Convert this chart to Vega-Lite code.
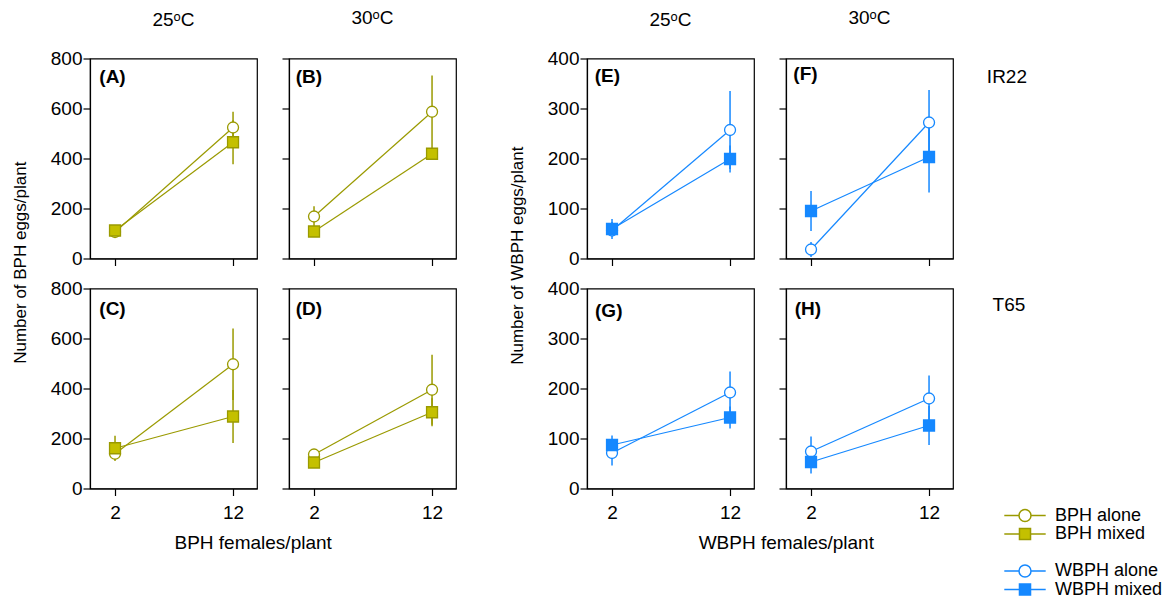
{
  "$schema": "https://vega.github.io/schema/vega-lite/v6.json",
  "background": "white",
  "padding": {"left": 11, "top": 7.5, "right": 0, "bottom": 0},
  "config": {
    "font": "Liberation Sans",
    "view": {"stroke": "black", "strokeWidth": 1.2},
    "axis": {"grid": false, "domainColor": "black", "domainWidth": 1.2, "tickColor": "black", "tickWidth": 1.2, "tickSize": 7, "labelFont": "Liberation Sans", "labelFontSize": 19, "labelColor": "black"},
    "axisX": {"labelPadding": 8},
    "axisY": {"labelPadding": 1},
    "title": {"font": "Liberation Sans", "fontSize": 19, "fontWeight": "normal", "color": "black"},
    "text": {"font": "Liberation Sans", "fontSize": 19, "fill": "black"},
    "legend": {"labelFont": "Liberation Sans", "labelFontSize": 18, "labelColor": "black"}
  },
  "datasets": {
    "obs": [
      {"panel": "A", "series": "BPH alone", "females": 2, "mean": 106, "lo": 100, "hi": 112},
      {"panel": "A", "series": "BPH alone", "females": 12, "mean": 524, "lo": 462, "hi": 587},
      {"panel": "A", "series": "BPH mixed", "females": 2, "mean": 112, "lo": 104, "hi": 120},
      {"panel": "A", "series": "BPH mixed", "females": 12, "mean": 465, "lo": 377, "hi": 553},
      {"panel": "B", "series": "BPH alone", "females": 2, "mean": 168, "lo": 128, "hi": 209},
      {"panel": "B", "series": "BPH alone", "females": 12, "mean": 587, "lo": 442, "hi": 732},
      {"panel": "B", "series": "BPH mixed", "females": 2, "mean": 108, "lo": 96, "hi": 120},
      {"panel": "B", "series": "BPH mixed", "females": 12, "mean": 419, "lo": 402, "hi": 436},
      {"panel": "C", "series": "BPH alone", "females": 2, "mean": 139, "lo": 112, "hi": 166},
      {"panel": "C", "series": "BPH alone", "females": 12, "mean": 497, "lo": 354, "hi": 640},
      {"panel": "C", "series": "BPH mixed", "females": 2, "mean": 161, "lo": 111, "hi": 211},
      {"panel": "C", "series": "BPH mixed", "females": 12, "mean": 288, "lo": 182, "hi": 394},
      {"panel": "D", "series": "BPH alone", "females": 2, "mean": 136, "lo": 122, "hi": 150},
      {"panel": "D", "series": "BPH alone", "females": 12, "mean": 395, "lo": 255, "hi": 535},
      {"panel": "D", "series": "BPH mixed", "females": 2, "mean": 104, "lo": 94, "hi": 114},
      {"panel": "D", "series": "BPH mixed", "females": 12, "mean": 305, "lo": 249, "hi": 361},
      {"panel": "E", "series": "WBPH alone", "females": 2, "mean": 56, "lo": 39, "hi": 73},
      {"panel": "E", "series": "WBPH alone", "females": 12, "mean": 257, "lo": 179, "hi": 335},
      {"panel": "E", "series": "WBPH mixed", "females": 2, "mean": 59, "lo": 45, "hi": 79},
      {"panel": "E", "series": "WBPH mixed", "females": 12, "mean": 199, "lo": 172, "hi": 226},
      {"panel": "F", "series": "WBPH alone", "females": 2, "mean": 18, "lo": 3, "hi": 33},
      {"panel": "F", "series": "WBPH alone", "females": 12, "mean": 272, "lo": 207, "hi": 337},
      {"panel": "F", "series": "WBPH mixed", "females": 2, "mean": 95, "lo": 55, "hi": 135},
      {"panel": "F", "series": "WBPH mixed", "females": 12, "mean": 203, "lo": 132, "hi": 274},
      {"panel": "G", "series": "WBPH alone", "females": 2, "mean": 71, "lo": 46, "hi": 96},
      {"panel": "G", "series": "WBPH alone", "females": 12, "mean": 192, "lo": 150, "hi": 234},
      {"panel": "G", "series": "WBPH mixed", "females": 2, "mean": 87, "lo": 68, "hi": 106},
      {"panel": "G", "series": "WBPH mixed", "females": 12, "mean": 142, "lo": 120, "hi": 164},
      {"panel": "H", "series": "WBPH alone", "females": 2, "mean": 74, "lo": 44, "hi": 104},
      {"panel": "H", "series": "WBPH alone", "females": 12, "mean": 180, "lo": 134, "hi": 226},
      {"panel": "H", "series": "WBPH mixed", "females": 2, "mean": 53, "lo": 30, "hi": 76},
      {"panel": "H", "series": "WBPH mixed", "females": 12, "mean": 126, "lo": 87, "hi": 165}
    ],
    "notes": [
      {"panel": "A", "kind": "tag", "label": "(A)", "lx": 0.67, "ly": 728},
      {"panel": "B", "kind": "tag", "label": "(B)", "lx": 0.45, "ly": 728},
      {"panel": "C", "kind": "tag", "label": "(C)", "lx": 0.67, "ly": 720},
      {"panel": "D", "kind": "tag", "label": "(D)", "lx": 0.45, "ly": 718},
      {"panel": "E", "kind": "tag", "label": "(E)", "lx": 0.53, "ly": 365},
      {"panel": "F", "kind": "tag", "label": "(F)", "lx": 0.5, "ly": 370},
      {"panel": "G", "kind": "tag", "label": "(G)", "lx": 0.56, "ly": 355},
      {"panel": "H", "kind": "tag", "label": "(H)", "lx": 0.62, "ly": 359},
      {"panel": "F", "kind": "row", "label": "IR22", "lx": 18.6, "ly": 364},
      {"panel": "H", "kind": "row", "label": "T65", "lx": 18.77, "ly": 368}
    ]
  },
  "spacing": 51,
  "hconcat": [
    {
      "title": {"text": "Number of BPH eggs/plant", "orient": "left", "anchor": "middle", "offset": 20, "fontSize": 17, "dx": 18},
      "spacing": 9,
      "vconcat": [
        {
          "spacing": 22,
          "hconcat": [
            {
              "width": 167, "height": 200,
              "title": {"text": "25ᵒC", "orient": "top", "anchor": "middle", "frame": "group", "offset": 20},
              "data": {"name": "obs"},
              "transform": [{"filter": "datum.panel==='A'"}],
              "encoding": {
                "x": {"field": "females", "type": "quantitative", "title": null, "scale": {"domain": [-0.12, 14.03], "nice": false, "zero": false}, "axis": {"values": [2, 12], "labels": false}},
                "y": {"field": "mean", "type": "quantitative", "title": null, "scale": {"domain": [0, 800], "nice": false}, "axis": {"values": [0, 200, 400, 600, 800], "labels": true}}
              },
              "layer": [
                {"mark": {"type": "rule", "strokeWidth": 1.5}, "encoding": {"y": {"field": "lo", "type": "quantitative", "title": null}, "y2": {"field": "hi"}, "stroke": {"field": "series", "type": "nominal", "scale": {"domain": ["BPH alone", "BPH mixed", " ", "WBPH alone", "WBPH mixed"], "range": ["#9a9a00", "#9a9a00", "transparent", "#1588ff", "#1588ff"]}, "legend": {"title": null, "orient": "none", "legendX": 905, "legendY": 448, "symbolSize": 144, "symbolOffset": 21, "labelOffset": 21, "rowPadding": 0.5, "padding": 0, "encode": {"symbols": {"update": {"shape": {"signal": "indexof(datum.value,'mixed')>=0 ? 'M3.45,0H0.92M-0.92,0H-3.45M-0.92,-0.92H0.92V0.92H-0.92Z' : 'M3.45,0H1M-1,0H-3.45M1,0A1,1,0,1,1,-1,0A1,1,0,1,1,1,0Z'"}, "opacity": {"value": 1}, "strokeWidth": {"value": 1.5}}}}}}}},
                {"mark": {"type": "line", "strokeWidth": 1.2}, "encoding": {"stroke": {"field": "series", "type": "nominal"}}},
                {"transform": [{"filter": "indexof(datum.series,'alone')>=0"}], "mark": {"type": "point", "shape": "circle", "size": 120, "strokeWidth": 1.3, "opacity": 1}, "encoding": {"stroke": {"field": "series", "type": "nominal"}, "fill": {"field": "series", "type": "nominal", "scale": {"domain": ["BPH alone", "BPH mixed", " ", "WBPH alone", "WBPH mixed"], "range": ["white", "#c4c000", "transparent", "white", "#1588ff"]}, "legend": {"title": null, "orient": "none", "legendX": 905, "legendY": 448, "symbolSize": 144, "symbolOffset": 21, "labelOffset": 21, "rowPadding": 0.5, "padding": 0, "encode": {"symbols": {"update": {"shape": {"signal": "indexof(datum.value,'mixed')>=0 ? 'M3.45,0H0.92M-0.92,0H-3.45M-0.92,-0.92H0.92V0.92H-0.92Z' : 'M3.45,0H1M-1,0H-3.45M1,0A1,1,0,1,1,-1,0A1,1,0,1,1,1,0Z'"}, "opacity": {"value": 1}, "strokeWidth": {"value": 1.5}}}}}}}},
                {"transform": [{"filter": "indexof(datum.series,'mixed')>=0"}], "mark": {"type": "point", "shape": "square", "size": 120, "strokeWidth": 1.3, "opacity": 1}, "encoding": {"stroke": {"field": "series", "type": "nominal"}, "fill": {"field": "series", "type": "nominal"}}},
                {"data": {"name": "notes"}, "transform": [{"filter": "datum.panel==='A' && datum.kind==='tag'"}], "mark": {"type": "text", "align": "left", "baseline": "middle", "fontWeight": "bold"}, "encoding": {"x": {"field": "lx", "type": "quantitative", "title": null}, "y": {"field": "ly", "type": "quantitative", "title": null}, "text": {"field": "label"}}}
              ]
            },
            {
              "width": 167, "height": 200,
              "title": {"text": "30ᵒC", "orient": "top", "anchor": "middle", "frame": "group", "offset": 30},
              "data": {"name": "obs"},
              "transform": [{"filter": "datum.panel==='B'"}],
              "encoding": {
                "x": {"field": "females", "type": "quantitative", "title": null, "scale": {"domain": [-0.12, 14.03], "nice": false, "zero": false}, "axis": {"values": [2, 12], "labels": false}},
                "y": {"field": "mean", "type": "quantitative", "title": null, "scale": {"domain": [0, 800], "nice": false}, "axis": {"values": [0, 200, 400, 600, 800], "labels": false}}
              },
              "layer": [
                {"mark": {"type": "rule", "strokeWidth": 1.5}, "encoding": {"y": {"field": "lo", "type": "quantitative", "title": null}, "y2": {"field": "hi"}, "stroke": {"field": "series", "type": "nominal"}}},
                {"mark": {"type": "line", "strokeWidth": 1.2}, "encoding": {"stroke": {"field": "series", "type": "nominal"}}},
                {"transform": [{"filter": "indexof(datum.series,'alone')>=0"}], "mark": {"type": "point", "shape": "circle", "size": 120, "strokeWidth": 1.3, "opacity": 1}, "encoding": {"stroke": {"field": "series", "type": "nominal"}, "fill": {"field": "series", "type": "nominal"}}},
                {"transform": [{"filter": "indexof(datum.series,'mixed')>=0"}], "mark": {"type": "point", "shape": "square", "size": 120, "strokeWidth": 1.3, "opacity": 1}, "encoding": {"stroke": {"field": "series", "type": "nominal"}, "fill": {"field": "series", "type": "nominal"}}},
                {"data": {"name": "notes"}, "transform": [{"filter": "datum.panel==='B' && datum.kind==='tag'"}], "mark": {"type": "text", "align": "left", "baseline": "middle", "fontWeight": "bold"}, "encoding": {"x": {"field": "lx", "type": "quantitative", "title": null}, "y": {"field": "ly", "type": "quantitative", "title": null}, "text": {"field": "label"}}}
              ]
            }
          ]
        },
        {
          "spacing": 22,
          "title": {"text": "BPH females/plant", "orient": "bottom", "anchor": "middle", "offset": 11},
          "hconcat": [
            {
              "width": 167, "height": 200,
              "data": {"name": "obs"},
              "transform": [{"filter": "datum.panel==='C'"}],
              "encoding": {
                "x": {"field": "females", "type": "quantitative", "title": null, "scale": {"domain": [-0.12, 14.03], "nice": false, "zero": false}, "axis": {"values": [2, 12], "labels": true}},
                "y": {"field": "mean", "type": "quantitative", "title": null, "scale": {"domain": [0, 800], "nice": false}, "axis": {"values": [0, 200, 400, 600, 800], "labels": true}}
              },
              "layer": [
                {"mark": {"type": "rule", "strokeWidth": 1.5}, "encoding": {"y": {"field": "lo", "type": "quantitative", "title": null}, "y2": {"field": "hi"}, "stroke": {"field": "series", "type": "nominal"}}},
                {"mark": {"type": "line", "strokeWidth": 1.2}, "encoding": {"stroke": {"field": "series", "type": "nominal"}}},
                {"transform": [{"filter": "indexof(datum.series,'alone')>=0"}], "mark": {"type": "point", "shape": "circle", "size": 120, "strokeWidth": 1.3, "opacity": 1}, "encoding": {"stroke": {"field": "series", "type": "nominal"}, "fill": {"field": "series", "type": "nominal"}}},
                {"transform": [{"filter": "indexof(datum.series,'mixed')>=0"}], "mark": {"type": "point", "shape": "square", "size": 120, "strokeWidth": 1.3, "opacity": 1}, "encoding": {"stroke": {"field": "series", "type": "nominal"}, "fill": {"field": "series", "type": "nominal"}}},
                {"data": {"name": "notes"}, "transform": [{"filter": "datum.panel==='C' && datum.kind==='tag'"}], "mark": {"type": "text", "align": "left", "baseline": "middle", "fontWeight": "bold"}, "encoding": {"x": {"field": "lx", "type": "quantitative", "title": null}, "y": {"field": "ly", "type": "quantitative", "title": null}, "text": {"field": "label"}}}
              ]
            },
            {
              "width": 167, "height": 200,
              "data": {"name": "obs"},
              "transform": [{"filter": "datum.panel==='D'"}],
              "encoding": {
                "x": {"field": "females", "type": "quantitative", "title": null, "scale": {"domain": [-0.12, 14.03], "nice": false, "zero": false}, "axis": {"values": [2, 12], "labels": true}},
                "y": {"field": "mean", "type": "quantitative", "title": null, "scale": {"domain": [0, 800], "nice": false}, "axis": {"values": [0, 200, 400, 600, 800], "labels": false}}
              },
              "layer": [
                {"mark": {"type": "rule", "strokeWidth": 1.5}, "encoding": {"y": {"field": "lo", "type": "quantitative", "title": null}, "y2": {"field": "hi"}, "stroke": {"field": "series", "type": "nominal"}}},
                {"mark": {"type": "line", "strokeWidth": 1.2}, "encoding": {"stroke": {"field": "series", "type": "nominal"}}},
                {"transform": [{"filter": "indexof(datum.series,'alone')>=0"}], "mark": {"type": "point", "shape": "circle", "size": 120, "strokeWidth": 1.3, "opacity": 1}, "encoding": {"stroke": {"field": "series", "type": "nominal"}, "fill": {"field": "series", "type": "nominal"}}},
                {"transform": [{"filter": "indexof(datum.series,'mixed')>=0"}], "mark": {"type": "point", "shape": "square", "size": 120, "strokeWidth": 1.3, "opacity": 1}, "encoding": {"stroke": {"field": "series", "type": "nominal"}, "fill": {"field": "series", "type": "nominal"}}},
                {"data": {"name": "notes"}, "transform": [{"filter": "datum.panel==='D' && datum.kind==='tag'"}], "mark": {"type": "text", "align": "left", "baseline": "middle", "fontWeight": "bold"}, "encoding": {"x": {"field": "lx", "type": "quantitative", "title": null}, "y": {"field": "ly", "type": "quantitative", "title": null}, "text": {"field": "label"}}}
              ]
            }
          ]
        }
      ]
    },
    {
      "title": {"text": "Number of WBPH eggs/plant", "orient": "left", "anchor": "middle", "offset": 20, "fontSize": 17, "dx": 25},
      "spacing": 9,
      "vconcat": [
        {
          "spacing": 22,
          "hconcat": [
            {
              "width": 167, "height": 200,
              "title": {"text": "25ᵒC", "orient": "top", "anchor": "middle", "frame": "group", "offset": 20},
              "data": {"name": "obs"},
              "transform": [{"filter": "datum.panel==='E'"}],
              "encoding": {
                "x": {"field": "females", "type": "quantitative", "title": null, "scale": {"domain": [-0.12, 14.03], "nice": false, "zero": false}, "axis": {"values": [2, 12], "labels": false}},
                "y": {"field": "mean", "type": "quantitative", "title": null, "scale": {"domain": [0, 400], "nice": false}, "axis": {"values": [0, 100, 200, 300, 400], "labels": true}}
              },
              "layer": [
                {"mark": {"type": "rule", "strokeWidth": 1.5}, "encoding": {"y": {"field": "lo", "type": "quantitative", "title": null}, "y2": {"field": "hi"}, "stroke": {"field": "series", "type": "nominal"}}},
                {"mark": {"type": "line", "strokeWidth": 1.2}, "encoding": {"stroke": {"field": "series", "type": "nominal"}}},
                {"transform": [{"filter": "indexof(datum.series,'alone')>=0"}], "mark": {"type": "point", "shape": "circle", "size": 120, "strokeWidth": 1.3, "opacity": 1}, "encoding": {"stroke": {"field": "series", "type": "nominal"}, "fill": {"field": "series", "type": "nominal"}}},
                {"transform": [{"filter": "indexof(datum.series,'mixed')>=0"}], "mark": {"type": "point", "shape": "square", "size": 120, "strokeWidth": 1.3, "opacity": 1}, "encoding": {"stroke": {"field": "series", "type": "nominal"}, "fill": {"field": "series", "type": "nominal"}}},
                {"data": {"name": "notes"}, "transform": [{"filter": "datum.panel==='E' && datum.kind==='tag'"}], "mark": {"type": "text", "align": "left", "baseline": "middle", "fontWeight": "bold"}, "encoding": {"x": {"field": "lx", "type": "quantitative", "title": null}, "y": {"field": "ly", "type": "quantitative", "title": null}, "text": {"field": "label"}}}
              ]
            },
            {
              "width": 167, "height": 200,
              "title": {"text": "30ᵒC", "orient": "top", "anchor": "middle", "frame": "group", "offset": 30},
              "data": {"name": "obs"},
              "transform": [{"filter": "datum.panel==='F'"}],
              "encoding": {
                "x": {"field": "females", "type": "quantitative", "title": null, "scale": {"domain": [-0.12, 14.03], "nice": false, "zero": false}, "axis": {"values": [2, 12], "labels": false}},
                "y": {"field": "mean", "type": "quantitative", "title": null, "scale": {"domain": [0, 400], "nice": false}, "axis": {"values": [0, 100, 200, 300, 400], "labels": false}}
              },
              "layer": [
                {"mark": {"type": "rule", "strokeWidth": 1.5}, "encoding": {"y": {"field": "lo", "type": "quantitative", "title": null}, "y2": {"field": "hi"}, "stroke": {"field": "series", "type": "nominal"}}},
                {"mark": {"type": "line", "strokeWidth": 1.2}, "encoding": {"stroke": {"field": "series", "type": "nominal"}}},
                {"transform": [{"filter": "indexof(datum.series,'alone')>=0"}], "mark": {"type": "point", "shape": "circle", "size": 120, "strokeWidth": 1.3, "opacity": 1}, "encoding": {"stroke": {"field": "series", "type": "nominal"}, "fill": {"field": "series", "type": "nominal"}}},
                {"transform": [{"filter": "indexof(datum.series,'mixed')>=0"}], "mark": {"type": "point", "shape": "square", "size": 120, "strokeWidth": 1.3, "opacity": 1}, "encoding": {"stroke": {"field": "series", "type": "nominal"}, "fill": {"field": "series", "type": "nominal"}}},
                {"data": {"name": "notes"}, "transform": [{"filter": "datum.panel==='F' && datum.kind==='tag'"}], "mark": {"type": "text", "align": "left", "baseline": "middle", "fontWeight": "bold"}, "encoding": {"x": {"field": "lx", "type": "quantitative", "title": null}, "y": {"field": "ly", "type": "quantitative", "title": null}, "text": {"field": "label"}}},
                {"data": {"name": "notes"}, "transform": [{"filter": "datum.panel==='F' && datum.kind==='row'"}], "mark": {"type": "text", "align": "center", "baseline": "middle"}, "encoding": {"x": {"field": "lx", "type": "quantitative", "title": null}, "y": {"field": "ly", "type": "quantitative", "title": null}, "text": {"field": "label"}}}
              ]
            }
          ]
        },
        {
          "spacing": 22,
          "title": {"text": "WBPH females/plant", "orient": "bottom", "anchor": "middle", "offset": 11},
          "hconcat": [
            {
              "width": 167, "height": 200,
              "data": {"name": "obs"},
              "transform": [{"filter": "datum.panel==='G'"}],
              "encoding": {
                "x": {"field": "females", "type": "quantitative", "title": null, "scale": {"domain": [-0.12, 14.03], "nice": false, "zero": false}, "axis": {"values": [2, 12], "labels": true}},
                "y": {"field": "mean", "type": "quantitative", "title": null, "scale": {"domain": [0, 400], "nice": false}, "axis": {"values": [0, 100, 200, 300, 400], "labels": true}}
              },
              "layer": [
                {"mark": {"type": "rule", "strokeWidth": 1.5}, "encoding": {"y": {"field": "lo", "type": "quantitative", "title": null}, "y2": {"field": "hi"}, "stroke": {"field": "series", "type": "nominal"}}},
                {"mark": {"type": "line", "strokeWidth": 1.2}, "encoding": {"stroke": {"field": "series", "type": "nominal"}}},
                {"transform": [{"filter": "indexof(datum.series,'alone')>=0"}], "mark": {"type": "point", "shape": "circle", "size": 120, "strokeWidth": 1.3, "opacity": 1}, "encoding": {"stroke": {"field": "series", "type": "nominal"}, "fill": {"field": "series", "type": "nominal"}}},
                {"transform": [{"filter": "indexof(datum.series,'mixed')>=0"}], "mark": {"type": "point", "shape": "square", "size": 120, "strokeWidth": 1.3, "opacity": 1}, "encoding": {"stroke": {"field": "series", "type": "nominal"}, "fill": {"field": "series", "type": "nominal"}}},
                {"data": {"name": "notes"}, "transform": [{"filter": "datum.panel==='G' && datum.kind==='tag'"}], "mark": {"type": "text", "align": "left", "baseline": "middle", "fontWeight": "bold"}, "encoding": {"x": {"field": "lx", "type": "quantitative", "title": null}, "y": {"field": "ly", "type": "quantitative", "title": null}, "text": {"field": "label"}}}
              ]
            },
            {
              "width": 167, "height": 200,
              "data": {"name": "obs"},
              "transform": [{"filter": "datum.panel==='H'"}],
              "encoding": {
                "x": {"field": "females", "type": "quantitative", "title": null, "scale": {"domain": [-0.12, 14.03], "nice": false, "zero": false}, "axis": {"values": [2, 12], "labels": true}},
                "y": {"field": "mean", "type": "quantitative", "title": null, "scale": {"domain": [0, 400], "nice": false}, "axis": {"values": [0, 100, 200, 300, 400], "labels": false}}
              },
              "layer": [
                {"mark": {"type": "rule", "strokeWidth": 1.5}, "encoding": {"y": {"field": "lo", "type": "quantitative", "title": null}, "y2": {"field": "hi"}, "stroke": {"field": "series", "type": "nominal"}}},
                {"mark": {"type": "line", "strokeWidth": 1.2}, "encoding": {"stroke": {"field": "series", "type": "nominal"}}},
                {"transform": [{"filter": "indexof(datum.series,'alone')>=0"}], "mark": {"type": "point", "shape": "circle", "size": 120, "strokeWidth": 1.3, "opacity": 1}, "encoding": {"stroke": {"field": "series", "type": "nominal"}, "fill": {"field": "series", "type": "nominal"}}},
                {"transform": [{"filter": "indexof(datum.series,'mixed')>=0"}], "mark": {"type": "point", "shape": "square", "size": 120, "strokeWidth": 1.3, "opacity": 1}, "encoding": {"stroke": {"field": "series", "type": "nominal"}, "fill": {"field": "series", "type": "nominal"}}},
                {"data": {"name": "notes"}, "transform": [{"filter": "datum.panel==='H' && datum.kind==='tag'"}], "mark": {"type": "text", "align": "left", "baseline": "middle", "fontWeight": "bold"}, "encoding": {"x": {"field": "lx", "type": "quantitative", "title": null}, "y": {"field": "ly", "type": "quantitative", "title": null}, "text": {"field": "label"}}},
                {"data": {"name": "notes"}, "transform": [{"filter": "datum.panel==='H' && datum.kind==='row'"}], "mark": {"type": "text", "align": "center", "baseline": "middle"}, "encoding": {"x": {"field": "lx", "type": "quantitative", "title": null}, "y": {"field": "ly", "type": "quantitative", "title": null}, "text": {"field": "label"}}}
              ]
            }
          ]
        }
      ]
    }
  ]
}
